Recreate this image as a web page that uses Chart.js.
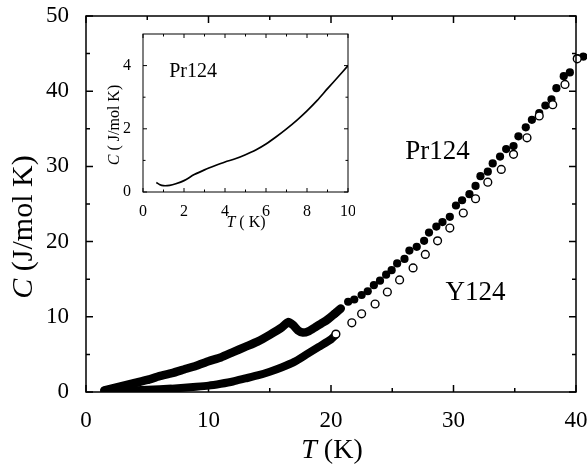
<!DOCTYPE html>
<html>
<head>
<meta charset="utf-8">
<script src="https://cdn.jsdelivr.net/npm/chart.js@4.4.0/dist/chart.umd.min.js"></script>
<style>
  body { margin: 0; background: #fff; }
  #wrap { position: relative; width: 587px; height: 466px; }
  #main { position: absolute; left: 0; top: 0; }
  #inset { position: absolute; left: 95px; top: 28px; }
</style>
</head>
<body>
<div id="wrap">
  <canvas id="main" width="587" height="466"></canvas>
  <canvas id="inset" width="260" height="210"></canvas>
</div>
<script>
// Pr124: zona densa por debajo de ~21 K (se ve como banda negra)
const prBandaT = [1.5, 2, 3, 4, 5, 6, 7, 8, 9, 10, 11, 12, 13, 14, 15, 16, 16.5, 16.9, 17.3, 17.7, 18.2, 18.7, 19.2, 19.7, 20.3, 20.8];
const prBandaC = [0.2, 0.4, 0.8, 1.2, 1.6, 2.1, 2.5, 3.0, 3.5, 4.1, 4.6, 5.3, 6.0, 6.7, 7.6, 8.6, 9.3, 8.9, 8.2, 7.9, 8.1, 8.6, 9.1, 9.6, 10.4, 11.1];

// Pr124: puntos sueltos (círculos llenos)
const prT = [20.3, 21.4, 21.9, 22.5, 23.0, 23.5, 24.0, 24.5, 24.95, 25.4, 26.0, 26.4, 27.0, 27.6, 28.0, 28.6, 29.1, 29.7, 30.2, 30.7, 31.3, 31.8, 32.2, 32.8, 33.2, 33.8, 34.3, 34.9, 35.3, 35.9, 36.4, 37.0, 37.5, 38.0, 38.4, 39.0, 39.5, 40.1, 40.6];
const prC = [10.4, 12.0, 12.3, 12.9, 13.4, 14.2, 14.8, 15.6, 16.2, 17.1, 17.7, 18.8, 19.3, 20.1, 21.2, 22.0, 22.6, 23.3, 24.8, 25.5, 26.3, 27.4, 28.7, 29.3, 30.4, 31.3, 32.3, 32.7, 34.0, 35.2, 36.2, 37.1, 38.1, 38.9, 40.4, 42.0, 42.5, 44.4, 44.6];

// Y124: zona densa
const yBandaT = [1.5, 3, 5, 7, 9, 10, 11, 12, 13, 14, 15, 16, 17, 18, 19, 20, 20.4];
const yBandaC = [0.15, 0.2, 0.3, 0.45, 0.7, 0.85, 1.1, 1.4, 1.8, 2.2, 2.7, 3.3, 4.0, 5.0, 6.0, 7.0, 7.6];

// Y124: puntos sueltos (círculos abiertos)
const yT = [20.4, 21.7, 22.5, 23.6, 24.6, 25.6, 26.7, 27.7, 28.7, 29.7, 30.8, 31.8, 32.8, 33.9, 34.9, 36.0, 37.0, 38.1, 39.1, 40.1];
const yC = [7.7, 9.2, 10.4, 11.7, 13.3, 14.9, 16.5, 18.3, 20.1, 21.8, 23.8, 25.7, 27.9, 29.6, 31.6, 33.8, 36.7, 38.2, 40.9, 44.3];

// inset: Pr124 a baja temperatura
const insetT = [0.65, 0.8, 1.0, 1.3, 1.6, 2.0, 2.5, 3.0, 3.5, 4.0, 4.5, 5.0, 5.5, 6.0, 6.5, 7.0, 7.5, 8.0, 8.5, 9.0, 9.5, 10.0];
const insetC = [0.3, 0.24, 0.2, 0.21, 0.26, 0.36, 0.55, 0.7, 0.83, 0.95, 1.05, 1.18, 1.33, 1.52, 1.75, 2.0, 2.27, 2.57, 2.9, 3.27, 3.63, 4.0];

// marcas de los ejes
const ticksX = [0, 10, 20, 30, 40];
const menoresX = [5, 15, 25, 35];
const ticksY = [0, 10, 20, 30, 40, 50];
const menoresY = [5, 15, 25, 35, 45];
const insetTicksX = [0, 2, 4, 6, 8, 10];
const insetMenoresX = [1, 3, 5, 7, 9];
const insetTicksY = [0, 2, 4];
const insetMenoresY = [1, 3];

const FUENTE = '"Liberation Serif", "Times New Roman", serif';

function puntos(xs, ys) {
    return xs.map((t, i) => ({ x: t, y: ys[i] }));
}

// texto con una parte en cursiva y el resto normal, centrado
function tituloMixto(ctx, cursiva, resto, size, cx, cy, rot) {
    ctx.save();
    ctx.translate(cx, cy);
    ctx.rotate(rot);
    ctx.fillStyle = '#000';
    ctx.textBaseline = 'middle';
    ctx.textAlign = 'left';
    ctx.font = 'italic ' + size + 'px ' + FUENTE;
    const w1 = ctx.measureText(cursiva).width;
    ctx.font = size + 'px ' + FUENTE;
    const w2 = ctx.measureText(resto).width;
    const x0 = -(w1 + w2) / 2;
    ctx.font = 'italic ' + size + 'px ' + FUENTE;
    ctx.fillText(cursiva, x0, 0);
    ctx.font = size + 'px ' + FUENTE;
    ctx.fillText(resto, x0 + w1, 0);
    ctx.restore();
}

// los puntos que caen justo fuera del eje (T > 40) también se dibujan
const fueraDelEje = {
    id: 'fueraDelEje',
    beforeDatasetsDraw(chart) {
        const a = chart.chartArea;
        chart._areaGuardada = a;
        chart.chartArea = { left: a.left, top: a.top - 10, right: a.right + 12, bottom: a.bottom,
                            width: a.width + 12, height: a.height + 10 };
    },
    afterDatasetsDraw(chart) {
        chart.chartArea = chart._areaGuardada;
    }
};

// marco cerrado con marcas hacia dentro en los cuatro lados + títulos
function marco(op) {
    return {
        id: 'marco',
        afterDraw(chart) {
            const ctx = chart.ctx;
            const a = chart.chartArea;
            const x = chart.scales.x, y = chart.scales.y;
            ctx.save();
            ctx.strokeStyle = '#000';
            ctx.lineWidth = op.ancho;
            ctx.strokeRect(a.left, a.top, a.right - a.left, a.bottom - a.top);
            ctx.beginPath();
            const marcaX = (v, l) => {
                const px = x.getPixelForValue(v);
                ctx.moveTo(px, a.bottom); ctx.lineTo(px, a.bottom - l);
                ctx.moveTo(px, a.top); ctx.lineTo(px, a.top + l);
            };
            const marcaY = (v, l) => {
                const py = y.getPixelForValue(v);
                ctx.moveTo(a.left, py); ctx.lineTo(a.left + l, py);
                ctx.moveTo(a.right, py); ctx.lineTo(a.right - l, py);
            };
            op.mayX.forEach(v => marcaX(v, op.largo));
            op.menX.forEach(v => marcaX(v, op.corto));
            op.mayY.forEach(v => marcaY(v, op.largo));
            op.menY.forEach(v => marcaY(v, op.corto));
            ctx.stroke();
            ctx.restore();

            tituloMixto(ctx, op.tx[0], op.tx[1], op.tx[2], op.tx[3], op.tx[4], 0);
            tituloMixto(ctx, op.ty[0], op.ty[1], op.ty[2], op.ty[3], op.ty[4], -Math.PI / 2);

            ctx.save();
            ctx.fillStyle = '#000';
            ctx.textAlign = 'center';
            ctx.textBaseline = 'middle';
            op.etiquetas.forEach(e => {
                ctx.font = e.size + 'px ' + FUENTE;
                ctx.fillText(e.texto, x.getPixelForValue(e.t), y.getPixelForValue(e.c));
            });
            ctx.restore();
        }
    };
}

function ejes(cfg) {
    return {
        x: {
            type: 'linear', min: cfg.xmin, max: cfg.xmax,
            afterBuildTicks: s => { s.ticks = cfg.tx.map(v => ({ value: v })); },
            afterFit: s => { s.height = cfg.alto; s.paddingLeft = 0; s.paddingRight = 0; },
            grid: { display: false },
            border: { display: false },
            ticks: { color: '#000', padding: cfg.padX, maxRotation: 0, autoSkip: false,
                     font: { family: FUENTE, size: cfg.fuente } }
        },
        y: {
            type: 'linear', min: cfg.ymin, max: cfg.ymax,
            afterBuildTicks: s => { s.ticks = cfg.ty.map(v => ({ value: v })); },
            afterFit: s => { s.width = cfg.anchoY; s.paddingTop = 0; s.paddingBottom = 0; },
            grid: { display: false },
            border: { display: false },
            ticks: { color: '#000', padding: cfg.padY, autoSkip: false,
                     font: { family: FUENTE, size: cfg.fuente } }
        }
    };
}

// gráfica principal
// (los puntos sueltos van en orden inverso para que Chart.js no recorte los que pasan de 40 K)
new Chart(document.getElementById('main').getContext('2d'), {
    type: 'scatter',
    data: {
        datasets: [
            {
                data: puntos(prBandaT, prBandaC), showLine: true, tension: 0.2, order: 3,
                borderColor: '#000', borderWidth: 8.5, pointRadius: 0,
                borderCapStyle: 'round', borderJoinStyle: 'round'
            },
            {
                data: puntos(yBandaT, yBandaC), showLine: true, tension: 0.2, order: 2,
                borderColor: '#000', borderWidth: 8, pointRadius: 0,
                borderCapStyle: 'round', borderJoinStyle: 'round'
            },
            {
                data: puntos(prT, prC).reverse(), clip: false, order: 1,
                pointRadius: 4.1, backgroundColor: '#000', borderWidth: 0
            },
            {
                data: puntos(yT, yC).reverse(), clip: false, order: 0,
                pointRadius: 3.9, backgroundColor: '#fff', borderColor: '#000', borderWidth: 1.4
            }
        ]
    },
    options: {
        responsive: false,
        animation: false,
        events: [],
        layout: { padding: { top: 16, right: 11, left: 0, bottom: 0 } },
        plugins: { legend: { display: false }, tooltip: { enabled: false } },
        scales: ejes({ xmin: 0, xmax: 40, ymin: 0, ymax: 50, tx: ticksX, ty: ticksY,
                       alto: 74, anchoY: 86, padX: 7, padY: 9, fuente: 23 })
    },
    plugins: [fueraDelEje, marco({
        ancho: 1.5, largo: 7, corto: 4,
        mayX: ticksX, menX: menoresX, mayY: ticksY, menY: menoresY,
        tx: ['T', ' (K)', 28, 332, 451],
        ty: ['C', ' (J/mol K)', 30, 24, 227],
        etiquetas: [
            { texto: 'Pr124', t: 28.7, c: 31.9, size: 27 },
            { texto: 'Y124', t: 31.8, c: 13.2, size: 27 }
        ]
    })]
});

// inset
new Chart(document.getElementById('inset').getContext('2d'), {
    type: 'scatter',
    data: {
        datasets: [{
            data: puntos(insetT, insetC), showLine: true, tension: 0.3,
            borderColor: '#000', borderWidth: 1.7, pointRadius: 0
        }]
    },
    options: {
        responsive: false,
        animation: false,
        events: [],
        layout: { padding: { top: 6, right: 7, left: 0, bottom: 0 } },
        plugins: { legend: { display: false }, tooltip: { enabled: false } },
        scales: ejes({ xmin: 0, xmax: 10, ymin: 0, ymax: 5, tx: insetTicksX, ty: insetTicksY,
                       alto: 46, anchoY: 48, padX: 2, padY: 4, fuente: 16 })
    },
    plugins: [marco({
        ancho: 1, largo: 4, corto: 2.5,
        mayX: insetTicksX, menX: insetMenoresX, mayY: insetTicksY, menY: insetMenoresY,
        tx: ['T', ' ( K)', 16, 151, 195],
        ty: ['C', ' ( J/mol K)', 16, 20, 97],
        etiquetas: [
            { texto: 'Pr124', t: 2.44, c: 3.79, size: 20 }
        ]
    })]
});
</script>
</body>
</html>
